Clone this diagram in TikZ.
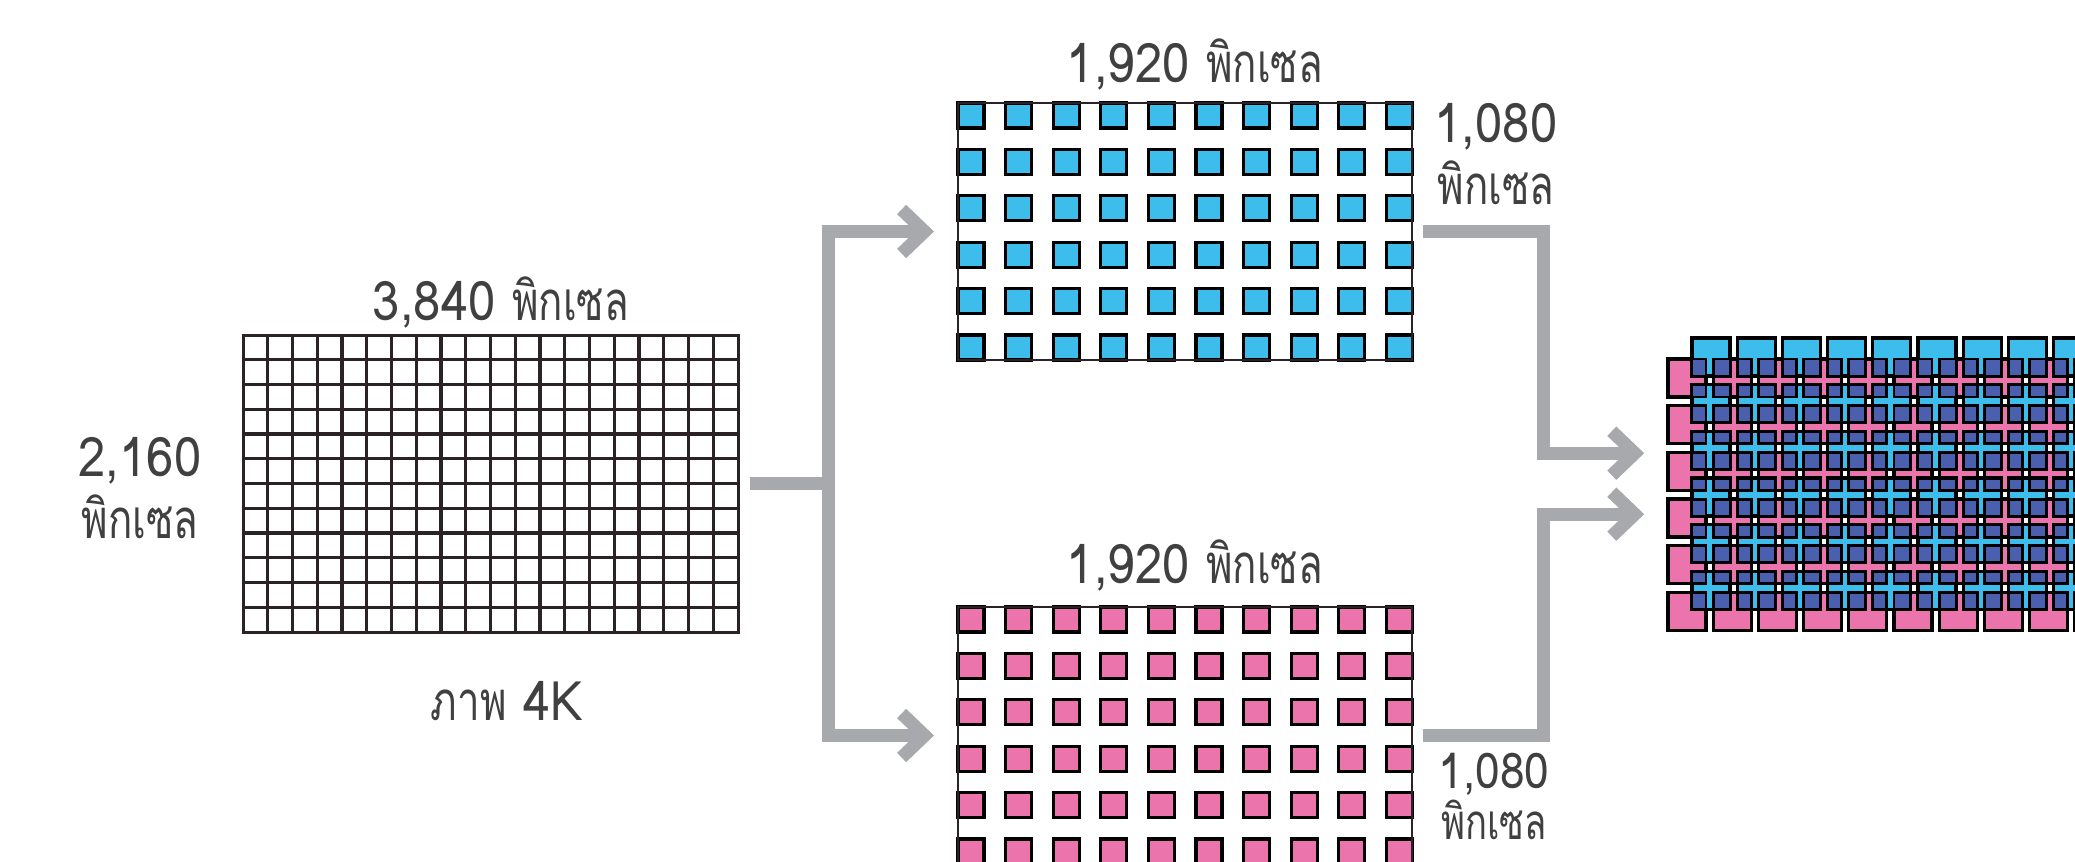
\documentclass[tikz,border=0pt]{standalone}
\usepackage{fontspec}
\setmainfont[Script=Thai, FakeStretch = 0.9]{Loma}
\newfontfamily\thaiword[Script=Thai, FakeStretch = 0.74]{Loma}
\usetikzlibrary{arrows.meta}
\usetikzlibrary{positioning}
\definecolor{pixblue}{HTML}{3CBDEC}
\definecolor{pixpink}{HTML}{EA74AB}
\definecolor{pixdark}{HTML}{4A5FAE}
\definecolor{flowgray}{HTML}{A7A9AC}
\definecolor{inkline}{HTML}{2A2224}
\definecolor{textgray}{HTML}{404040}
\tikzset{gridline/.style = {draw = inkline, line width = 0.33mm}}
\tikzset{pixframe/.style = {draw = inkline, line width = 0.2mm, inner sep = 0,
                            minimum width = 45.4mm, minimum height = 25.7mm}}
\tikzset{bluepix/.style = {fill = pixblue, draw = black, line width = 0.33mm}}
\tikzset{pinkpix/.style = {fill = pixpink, draw = black, line width = 0.33mm}}
\tikzset{darkpix/.style = {fill = pixdark, draw = black, line width = 0.28mm}}
\tikzset{flow/.style = {draw = flowgray, line width = 1.3mm, line join = miter,
                        -{Straight Barb[length = 2.3mm, width = 4.4mm]}}}
\tikzset{sizetext/.style = {text = textgray, font = \fontsize{15.5}{17.6}\selectfont,
                            align = center, inner sep = 0}}

\begin{document}
\begin{tikzpicture}[x = 0.1mm, y = -0.1mm]
    \useasboundingbox (0, 0) rectangle (2075, 862);
    \clip (0, 0) rectangle (2075, 862);

    % 4K picture
    \foreach \c in {1, ..., 19}
        \draw [gridline] (243 + 24.75*\c, 335) -- ++(0, 297);
    \foreach \r in {1, ..., 11}
        \draw [gridline] (243, 335 + 24.75*\r) -- ++(495, 0);
    \node (fourk) [pixframe, line width = 0.3mm, minimum width = 49.5mm, minimum height = 29.7mm] at (490.5, 483.5) {};

    % two half pictures
    \foreach \i in {0, ..., 9}
        \foreach \j in {0, ..., 5} {
            \draw [bluepix] (958 + 47.6*\i, 103 + 46.4*\j) rectangle ++(26, 25);
            \draw [pinkpix] (958 + 47.6*\i, 607 + 46.4*\j) rectangle ++(26, 25);
        }
    \node (halfa) [pixframe] at (1185, 231.5) {};
    \node (halfb) [pixframe] at (1185, 735.5) {};

    % merged picture
    \foreach \i in {0, ..., 9}
        \foreach \j in {0, ..., 5}
            \draw [pinkpix] (1668 + 45.2*\i, 359 + 46.7*\j) rectangle ++(38, 38);
    \foreach \i in {0, ..., 9}
        \foreach \j in {0, ..., 5}
            \draw [bluepix] (1692 + 45.2*\i, 338 + 46.7*\j) rectangle ++(38, 38);
    \foreach \i in {0, ..., 9}
        \foreach \j in {0, ..., 5} {
            \draw [darkpix] (1692 + 45.2*\i, 359 + 46.7*\j) rectangle (1706 + 45.2*\i, 376 + 46.7*\j);
            \draw [darkpix] (1713.2 + 45.2*\i, 359 + 46.7*\j) rectangle (1730 + 45.2*\i, 376 + 46.7*\j);
        }
    \foreach \i in {0, ..., 9}
        \foreach \j in {0, ..., 4} {
            \draw [darkpix] (1692 + 45.2*\i, 384.7 + 46.7*\j) rectangle (1706 + 45.2*\i, 397 + 46.7*\j);
            \draw [darkpix] (1713.2 + 45.2*\i, 384.7 + 46.7*\j) rectangle (1730 + 45.2*\i, 397 + 46.7*\j);
        }
    \node (merged) [inner sep = 0, minimum width = 44.5mm, minimum height = 29.2mm] at (1890.4, 484.2) {};

    % labels
    \node (fourkwidth) [sizetext] at (501, 302) {3,840 {\thaiword พิกเซล}};
    \node (fourkheight) [sizetext] at (140, 488) {2,160\\{\thaiword พิกเซล}};
    \node (fourkname) [sizetext] at (507, 701) {{\thaiword ภาพ} 4K};
    \node (halfawidth) [sizetext] at (1195, 64) {1,920 {\thaiword พิกเซล}};
    \node (halfaheight) [sizetext] at (1496, 154) {1,080\\{\thaiword พิกเซล}};
    \node (halfbwidth) [sizetext] at (1195, 565) {1,920 {\thaiword พิกเซล}};
    \node (halfbheight) [sizetext, font = \fontsize{14}{14.5}\selectfont] at (1494, 796) {1,080\\{\thaiword พิกเซล}};

    % arrows
    \coordinate (fork) at (828, 483.5);
    \draw [flow, shorten <= 1mm, shorten >= 2.3mm] (fourk.east) -- (fork) |- (halfa.west);
    \draw [flow, shorten <= 1mm, shorten >= 2.3mm] (fourk.east) -- (fork) |- (halfb.west);
    \draw [flow, shorten <= 1mm, shorten >= 2.3mm] (halfa.east) -- ++(130, 0) |- ([yshift = 3.1mm] merged.west);
    \draw [flow, shorten <= 1mm, shorten >= 2.3mm] (halfb.east) -- ++(130, 0) |- ([yshift = -3mm] merged.west);
\end{tikzpicture}
\end{document}
